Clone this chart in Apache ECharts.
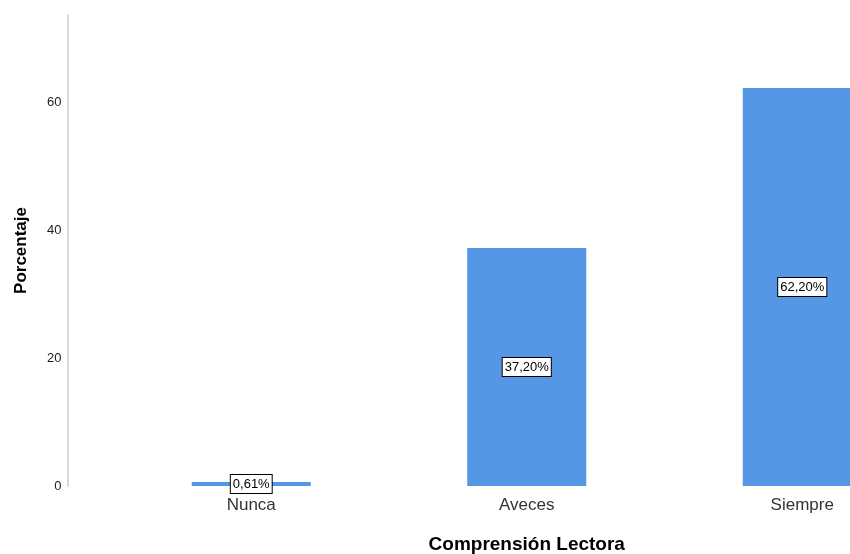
<!DOCTYPE html>
<html>
<head>
<meta charset="utf-8">
<script src="https://cdn.jsdelivr.net/npm/echarts@6/dist/echarts.min.js"></script>
<style>html,body{margin:0;padding:0;background:#fff;overflow:hidden;width:850px;height:554px}#c{width:940px;height:554px}</style>
</head>
<body>
<div id="c"></div>
<script>
const categories = ["Nunca", "Aveces", "Siempre"];
const values = [0.61, 37.2, 62.2];
const valueLabels = ["0,61%", "37,20%", "62,20%"];
const yTicks = [0, 20, 40, 60];

const chart = echarts.init(document.getElementById('c'), null, {renderer: 'canvas', width: 940, height: 554});
chart.setOption({
  animation: false,
  grid: {left: 113.5, right: 0, top: 15, bottom: 68, containLabel: false, outerBoundsMode: 'none'},
  xAxis: {
    type: 'category',
    data: categories,
    axisLine: {show: false},
    axisTick: {show: false},
    axisLabel: {fontFamily: 'Arial, Liberation Sans', fontSize: 17, color: '#333', margin: 11},
    name: 'Comprensión Lectora',
    nameLocation: 'middle',
    nameGap: 49,
    nameTextStyle: {fontFamily: 'Arial, Liberation Sans', fontSize: 19, fontWeight: 'bold', color: '#000'}
  },
  yAxis: {
    type: 'value',
    min: 0, max: 73.6, interval: 20,
    offset: 46,
    axisLine: {show: true, lineStyle: {color: '#d9d9d9', width: 2}},
    axisTick: {show: false},
    splitLine: {show: false},
    axisLabel: {
      fontFamily: 'Arial, Liberation Sans', fontSize: 13, color: '#222', margin: 6,
      padding: [6, 0, 0, 0],
      showMaxLabel: false,
      formatter: v => yTicks.includes(v) ? String(v) : ''
    },
    name: 'Porcentaje',
    nameLocation: 'middle',
    nameGap: 38,
    nameTextStyle: {fontFamily: 'Arial, Liberation Sans', fontSize: 17, fontWeight: 'bold', color: '#000'}
  },
  series: [{
    type: 'bar',
    data: values,
    barWidth: 119,
    itemStyle: {color: '#5596e5'},
    label: {
      show: true,
      position: 'inside',
      formatter: p => valueLabels[p.dataIndex],
      fontFamily: 'Arial, Liberation Sans',
      fontSize: 13,
      color: '#000',
      backgroundColor: '#fff',
      borderColor: '#000',
      borderWidth: 1,
      padding: [3, 2, 2, 2]
    }
  }]
});
</script>
</body>
</html>
